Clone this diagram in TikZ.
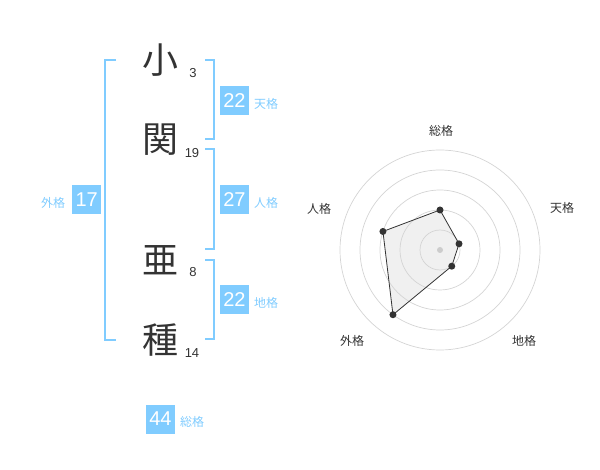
\documentclass[tikz,border=0pt]{standalone}
\usepackage{fontspec}
\setmainfont{Liberation Sans}
\newfontfamily\jp{Noto Sans CJK JP}
\usepackage{xcolor}
\usetikzlibrary{positioning, calc}

\definecolor{sky}{HTML}{80CCFF}
\definecolor{ink}{HTML}{333333}

\begin{document}
\begin{tikzpicture}[
  x=1pt, y=-1pt,
  kanji/.style={font=\jp\fontsize{36}{36}\selectfont, text=ink, inner sep=0pt},
  strokes/.style={font=\fontsize{13}{13}\selectfont, text=ink, inner sep=0pt},
  numbox/.style={fill=sky, text=white, minimum size=29pt, inner sep=0pt, font=\fontsize{20}{20}\selectfont},
  kaku/.style={text=sky, font=\jp\fontsize{12}{12}\selectfont, inner sep=0pt},
  brk/.style={draw=sky, line width=2pt},
  ring/.style={draw=black!17, line width=0.7pt},
  axislbl/.style={font=\jp\fontsize{12}{12}\selectfont, text=ink, inner sep=0pt},
  dot/.style={circle, fill=ink, inner sep=0pt, minimum size=7pt},
]
  \useasboundingbox (0,0) rectangle (600,470);

  % Name characters
  \node[kanji] (k1) at (160,60) {小};
  \node[kanji] (k2) at (160,140) {関};
  \node[kanji] (k3) at (160,260) {亜};
  \node[kanji] (k4) at (160,340) {種};

  % Stroke counts
  \node[strokes] (n1) at (193,73) {3};
  \node[strokes] (n2) at (192,153) {19};
  \node[strokes] (n3) at (193,272) {8};
  \node[strokes] (n4) at (192,353) {14};

  % Brackets
  \draw[brk] (116,60) -- (105,60) -- (105,340) -- (116,340);
  \draw[brk] (205,60) -- (214,60) -- (214,139) -- (205,139);
  \draw[brk] (205,149) -- (214,149) -- (214,249) -- (205,249);
  \draw[brk] (205,260) -- (214,260) -- (214,339) -- (205,339);

  % Scores
  \node[numbox] (ten) at (234.5,100.5) {22};
  \node[kaku] at (266,104) {天格};
  \node[numbox] (jin) at (234.5,200) {27};
  \node[kaku] at (266,203) {人格};
  \node[numbox] (chi) at (234.5,300) {22};
  \node[kaku] at (266,303) {地格};
  \node[numbox] (gai) at (86.7,200) {17};
  \node[kaku] at (53,203) {外格};
  \node[numbox] (sou) at (160.5,419) {44};
  \node[kaku] at (192,422) {総格};

  % Radar chart
  \begin{scope}[shift={(440,250)}, yscale=-1]
    \fill[black!6] (90:40) -- (18:20) -- (-54:20) -- (-126:80) -- (162:60) -- cycle;
    \foreach \r in {20,40,60,80,100}
      \draw[ring] (0,0) circle (\r);
    \fill[black!20] (0,0) circle (3);
    \foreach \a/\r/\n in {90/40/p1, 18/20/p2, -54/20/p3, -126/80/p4, 162/60/p5}
      \node[dot] (\n) at (\a:\r) {};
    \draw[ink, line width=0.8pt] (p1.center) -- (p2.center) -- (p3.center) -- (p4.center) -- (p5.center) -- cycle;
  \end{scope}

  \node[axislbl] (a1) at (441,131) {総格};
  \node[axislbl] (a2) at (562,208) {天格};
  \node[axislbl] (a3) at (524,341) {地格};
  \node[axislbl] (a4) at (352,341) {外格};
  \node[axislbl] (a5) at (319,209) {人格};
\end{tikzpicture}
\end{document}
